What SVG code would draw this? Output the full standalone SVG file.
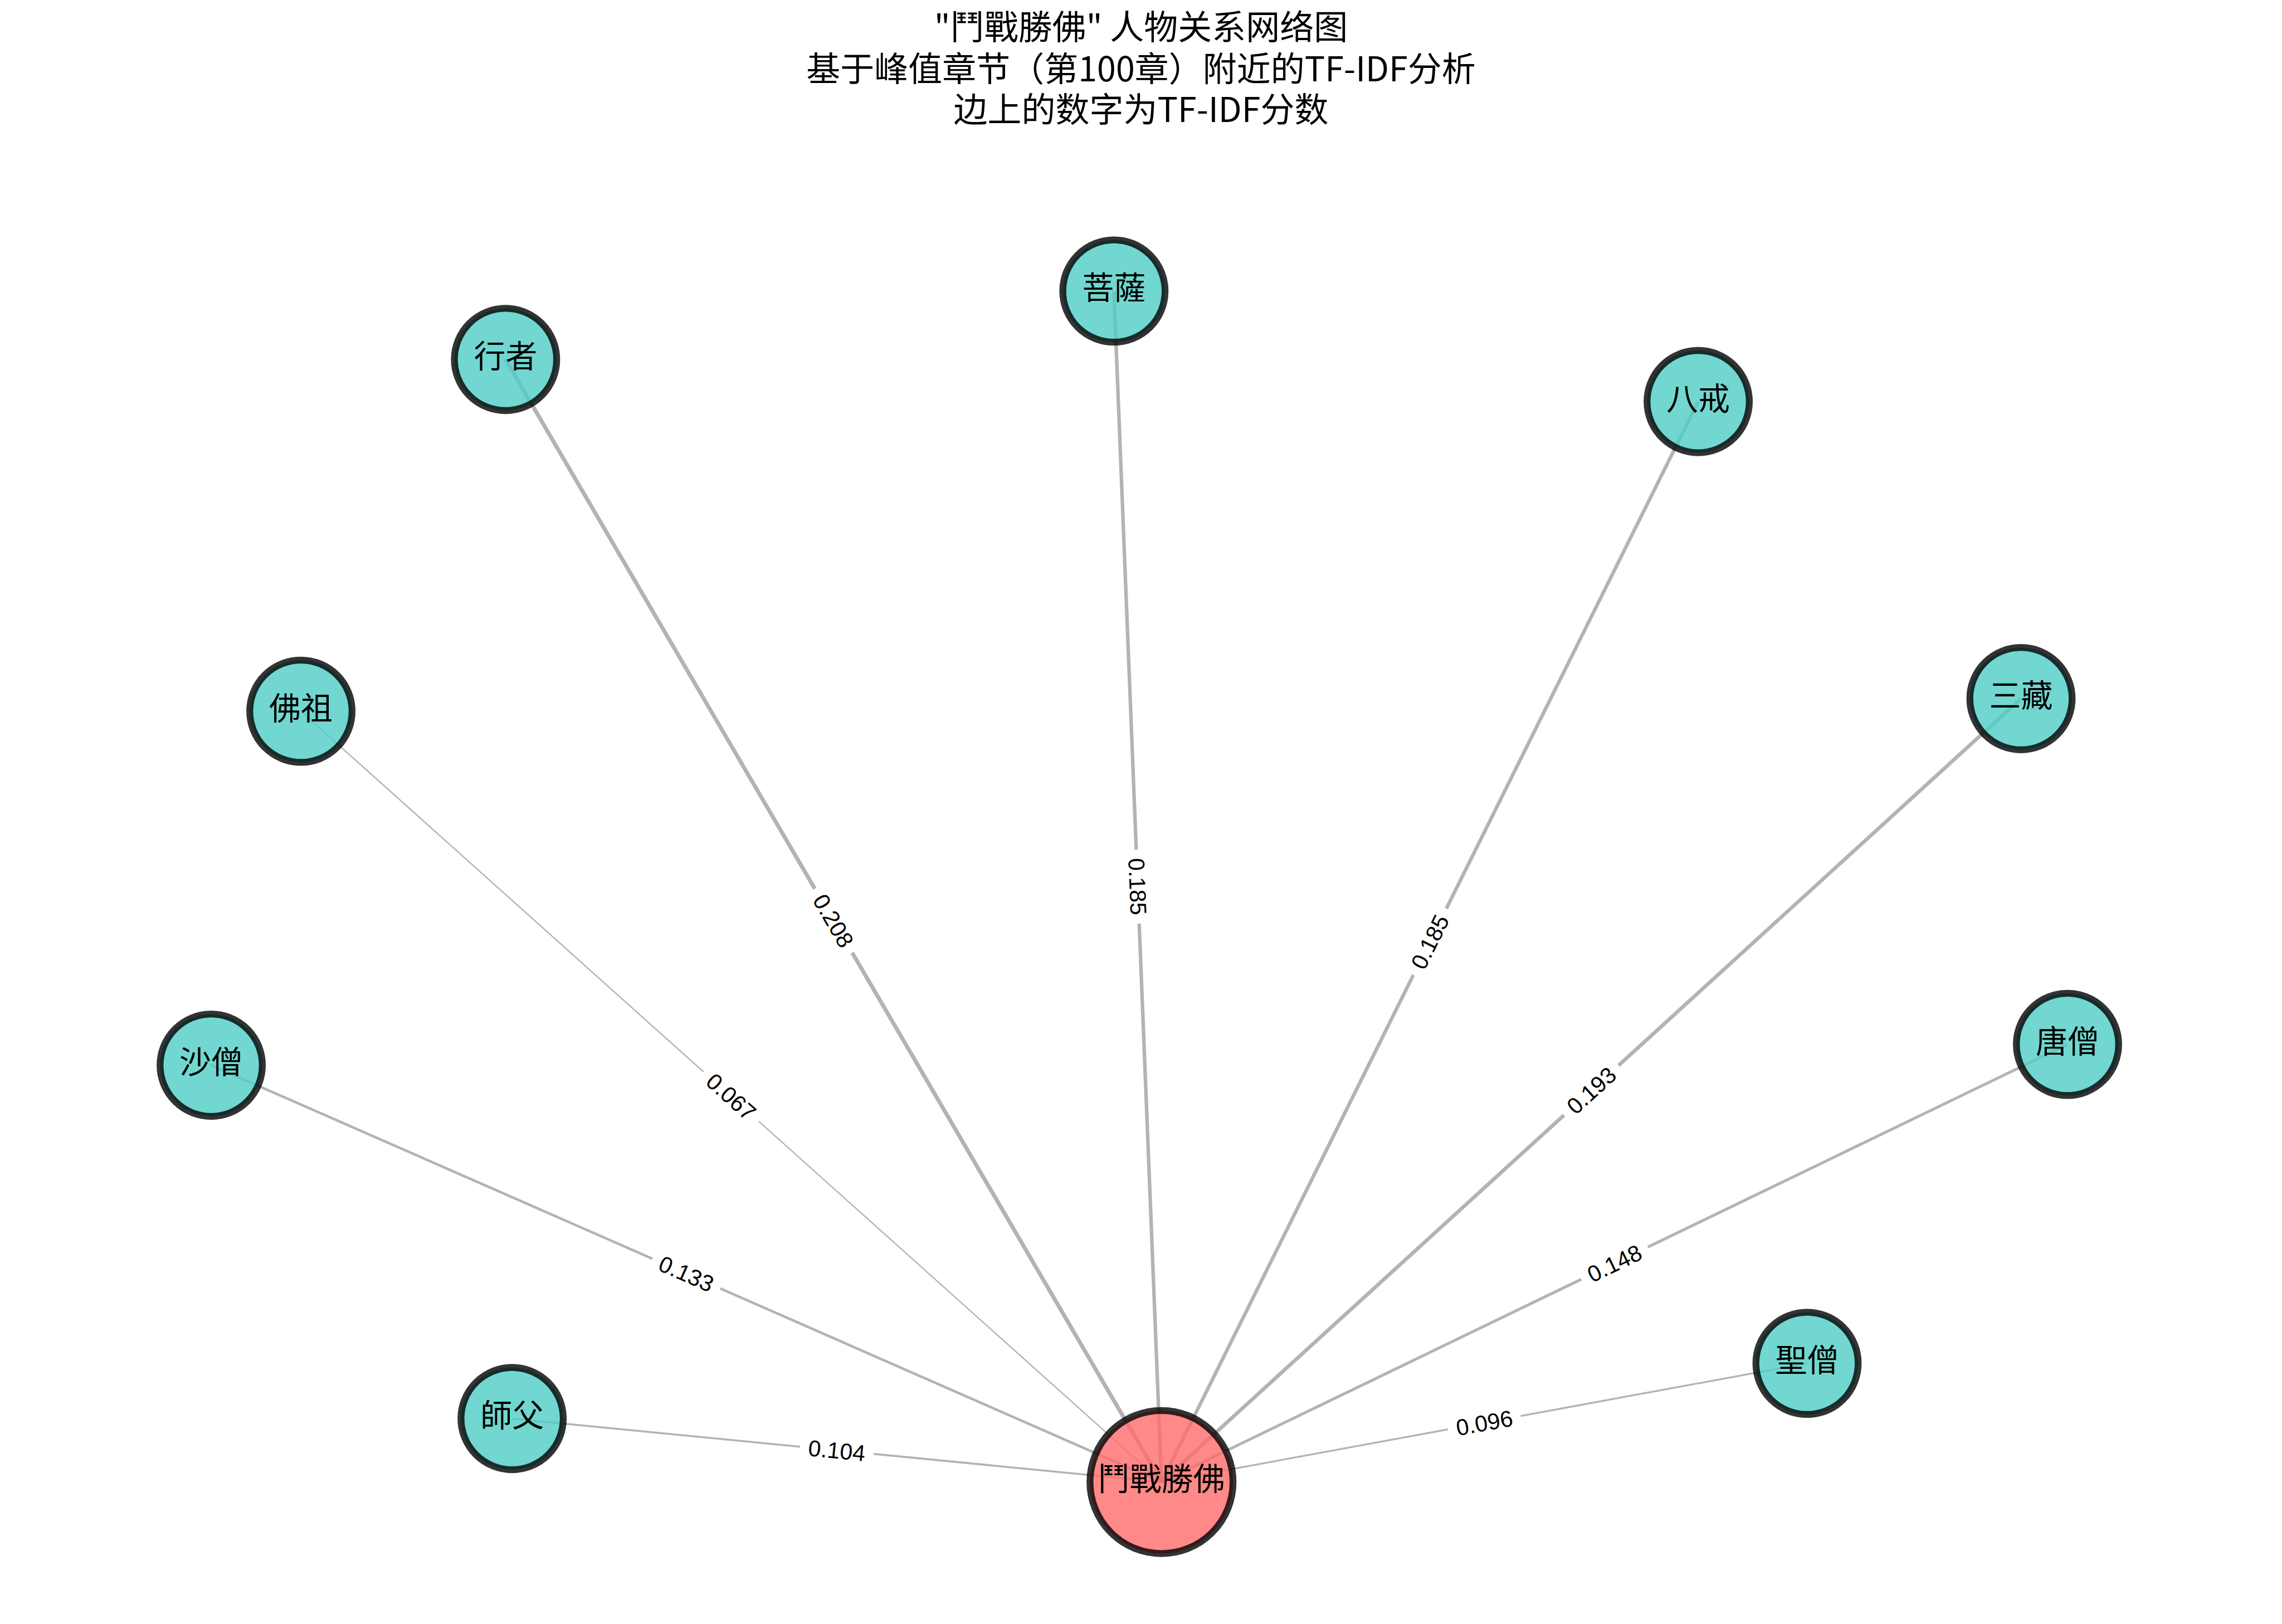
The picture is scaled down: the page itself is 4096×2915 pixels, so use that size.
<svg xmlns="http://www.w3.org/2000/svg" width="4096" height="2915" viewBox="0 0 4096 2915">
<style>
.title{font-family:"Noto Sans CJK SC","Liberation Sans",sans-serif;font-size:61px;fill:#000;text-anchor:middle}
.edge{stroke:#808080;stroke-opacity:0.6;fill:none;stroke-linecap:butt}
.node circle{fill:#4ECDC4;fill-opacity:0.8;stroke:#000;stroke-opacity:0.8;stroke-width:12.3}
.node.center circle{fill:#FF6B6B}
.node text{font-family:"Noto Sans CJK SC",sans-serif;font-size:57px;fill:#000;text-anchor:middle}
.el rect{fill:#fff;stroke:#fff}
.el text{font-family:"Liberation Sans",Arial,sans-serif;font-size:41px;fill:#000;text-anchor:middle}
</style>
<rect width="4096" height="2915" fill="#fff"/>
<g id="title">
<text class="title" x="2048" y="71">"鬥戰勝佛" 人物关系网络图</text>
<text class="title" x="2048" y="146">基于峰值章节（第100章）附近的TF-IDF分析</text>
<text class="title" x="2048" y="219">边上的数字为TF-IDF分数</text>
</g>
<g id="connectors">
<line class="edge" x1="2084.8" y1="2660.2" x2="907.4" y2="645.2" stroke-width="7.15"/>
<line class="edge" x1="2084.8" y1="2660.2" x2="1999.4" y2="522.4" stroke-width="6.36"/>
<line class="edge" x1="2084.8" y1="2660.2" x2="3048.1" y2="720.8" stroke-width="6.36"/>
<line class="edge" x1="2084.8" y1="2660.2" x2="3627.5" y2="1254.0" stroke-width="6.63"/>
<line class="edge" x1="2084.8" y1="2660.2" x2="540.1" y2="1276.6" stroke-width="2.3"/>
<line class="edge" x1="2084.8" y1="2660.2" x2="379.1" y2="1912.0" stroke-width="4.57"/>
<line class="edge" x1="2084.8" y1="2660.2" x2="3711.0" y2="1874.6" stroke-width="5.09"/>
<line class="edge" x1="2084.8" y1="2660.2" x2="919.2" y2="2546.3" stroke-width="3.57"/>
<line class="edge" x1="2084.8" y1="2660.2" x2="3243.5" y2="2447.1" stroke-width="3.3"/>
</g>
<g id="nodes">
<g id="n-xingzhe" class="node"><circle cx="907.4" cy="645.2" r="91.8"/><text x="907.4" y="660">行者</text></g>
<g id="n-pusa" class="node"><circle cx="1999.4" cy="522.4" r="91.8"/><text x="1999.4" y="537">菩薩</text></g>
<g id="n-bajie" class="node"><circle cx="3048.1" cy="720.8" r="91.8"/><text x="3048.1" y="736">八戒</text></g>
<g id="n-sanzang" class="node"><circle cx="3627.5" cy="1254.0" r="91.8"/><text x="3627.5" y="1269">三藏</text></g>
<g id="n-fozu" class="node"><circle cx="540.1" cy="1276.6" r="91.8"/><text x="540.1" y="1292">佛祖</text></g>
<g id="n-shaseng" class="node"><circle cx="379.1" cy="1912.0" r="91.8"/><text x="379.1" y="1927">沙僧</text></g>
<g id="n-tangseng" class="node"><circle cx="3711.0" cy="1874.6" r="91.8"/><text x="3711.0" y="1890">唐僧</text></g>
<g id="n-shifu" class="node"><circle cx="919.2" cy="2546.3" r="91.8"/><text x="919.2" y="2561">師父</text></g>
<g id="n-shengseng" class="node"><circle cx="3243.5" cy="2447.1" r="91.8"/><text x="3243.5" y="2462">聖僧</text></g>
<g id="n-center" class="node center"><circle cx="2084.8" cy="2660.2" r="128.4"/><text x="2084.8" y="2675">鬥戰勝佛</text></g>
</g>
<g id="edge-labels">
<g class="el" transform="translate(1496.1,1652.7) rotate(59.7)"><rect x="-66" y="-28" width="132" height="56" rx="12"/><text y="14.7">0.208</text></g>
<g class="el" transform="translate(2042.1,1591.3) rotate(87.7)"><rect x="-66" y="-28" width="132" height="56" rx="12"/><text y="14.7">0.185</text></g>
<g class="el" transform="translate(2566.5,1690.5) rotate(-63.6)"><rect x="-66" y="-28" width="132" height="56" rx="12"/><text y="14.7">0.185</text></g>
<g class="el" transform="translate(2856.2,1957.1) rotate(-42.3)"><rect x="-66" y="-28" width="132" height="56" rx="12"/><text y="14.7">0.193</text></g>
<g class="el" transform="translate(1312.5,1968.4) rotate(41.9)"><rect x="-66" y="-28" width="132" height="56" rx="12"/><text y="14.7">0.067</text></g>
<g class="el" transform="translate(1232.0,2286.1) rotate(23.7)"><rect x="-66" y="-28" width="132" height="56" rx="12"/><text y="14.7">0.133</text></g>
<g class="el" transform="translate(2897.9,2267.4) rotate(-25.8)"><rect x="-66" y="-28" width="132" height="56" rx="12"/><text y="14.7">0.148</text></g>
<g class="el" transform="translate(1502.0,2603.3) rotate(5.6)"><rect x="-66" y="-28" width="132" height="56" rx="12"/><text y="14.7">0.104</text></g>
<g class="el" transform="translate(2664.2,2553.7) rotate(-10.4)"><rect x="-66" y="-28" width="132" height="56" rx="12"/><text y="14.7">0.096</text></g>
</g>
</svg>
